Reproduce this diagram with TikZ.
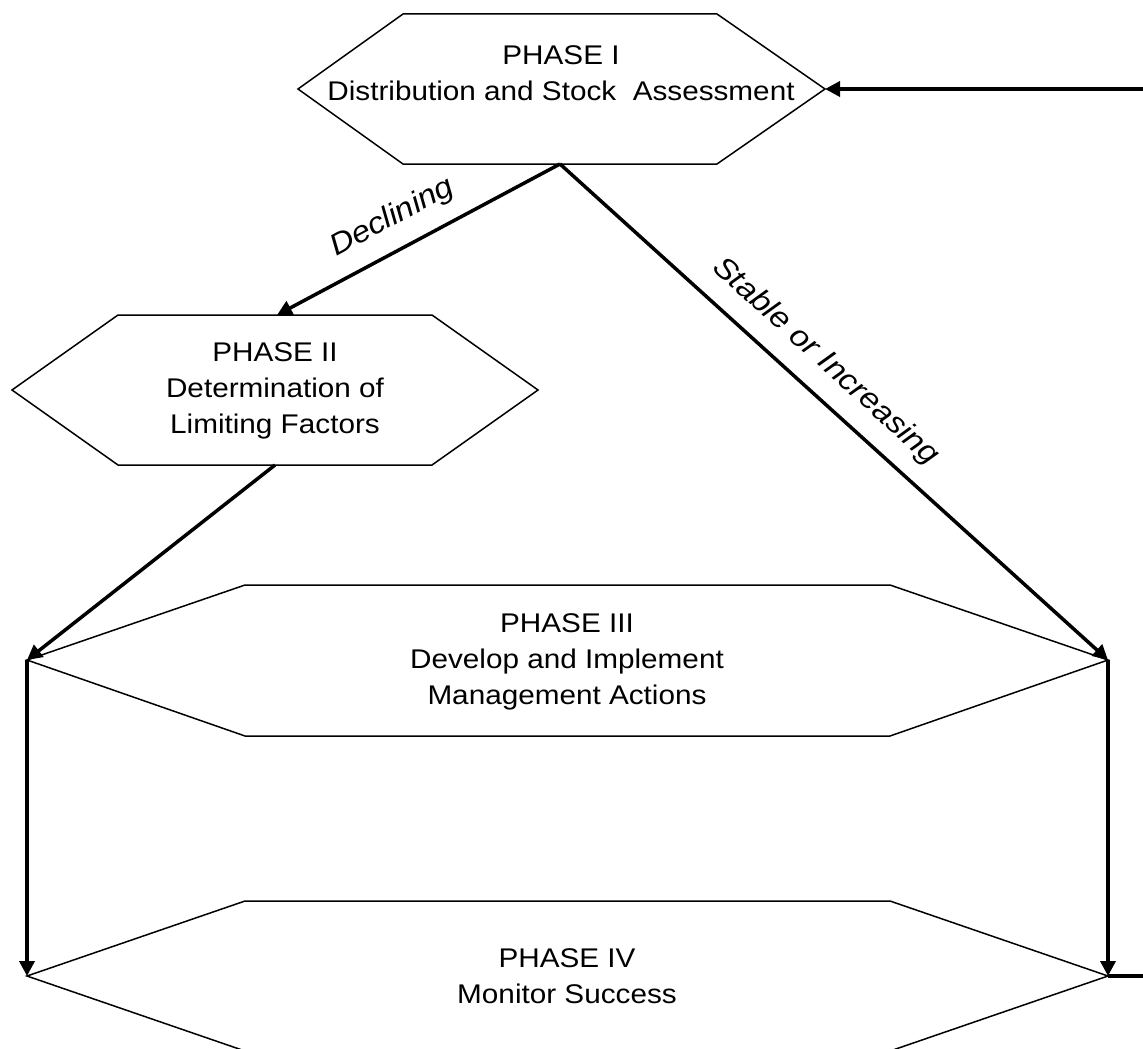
\documentclass[tikz,border=0pt]{standalone}
\usepackage{fontspec}
\setmainfont{Liberation Sans}[FakeStretch=1.1]
\usetikzlibrary{arrows.meta}
\begin{document}
\begin{tikzpicture}[x=1pt,y=-1pt,
  hexa/.style={line width=1.5pt, line join=miter},
  flow/.style={line width=3.5pt, -{Triangle[length=15pt,width=15pt]}, line join=miter},
  ptext/.style={align=center, font=\fontsize{27}{36}\selectfont, inner sep=0pt},
  elabel/.style={font=\fontsize{30}{32}\selectfont\itshape, sloped, above=14pt}]
\useasboundingbox (0,0) rectangle (1143,1049);
\clip (0,0) rectangle (1143,1049);
% vertices
\coordinate (p1w) at (298,89);
\coordinate (p1e) at (825,89);
\coordinate (p1b) at (560,164);
\coordinate (p2w) at (12,390);
\coordinate (p2e) at (538,390);
\coordinate (p2t) at (277,315);
\coordinate (p2b) at (275,465);
\coordinate (p3w) at (27,660);
\coordinate (p3e) at (1108,660);
\coordinate (p4w) at (27,976);
\coordinate (p4e) at (1108,976);
\coordinate (fb1) at (1180,976);
\coordinate (fb2) at (1180,89);
% hexagons
\draw[hexa] (p1w) -- (403,14) -- (717,14) -- (p1e) -- (717,164) -- (403,164) -- cycle;
\draw[hexa] (p2w) -- (118,315) -- (432,315) -- (p2e) -- (432,465) -- (118,465) -- cycle;
\draw[hexa] (p3w) -- (245,585) -- (890,585) -- (p3e) -- (890,736) -- (245,736) -- cycle;
\draw[hexa] (p4w) -- (245,901) -- (890,901) -- (p4e) -- (890,1051) -- (245,1051) -- cycle;
% texts
\node[ptext] (t1) at (561,73) {PHASE I\\Distribution and Stock~~Assessment};
\node[ptext] (t2) at (275,391) {PHASE II\\Determination of\\Limiting Factors};
\node[ptext] (t3) at (567,662) {PHASE III\\Develop and Implement\\Management Actions};
\node[ptext] (t4) at (567,976) {PHASE IV\\Monitor Success};
% connectors
\draw[flow] (p1b) -- (p2t);
\draw[flow] (p1b) -- (p3e);
\draw[flow] (p2b) -- (p3w);
\draw[flow] (p3w) -- (p4w);
\draw[flow] (p3e) -- (p4e);
\draw[flow] (p4e) -- (fb1) -- (fb2) -- (p1e);
% labels
\path (p1b) -- (p2t) node[elabel, pos=0.54] (l1) {Declining};
\path (p1b) -- (p3e) node[elabel, pos=0.446] (l2) {Stable or Increasing};
\end{tikzpicture}
\end{document}
